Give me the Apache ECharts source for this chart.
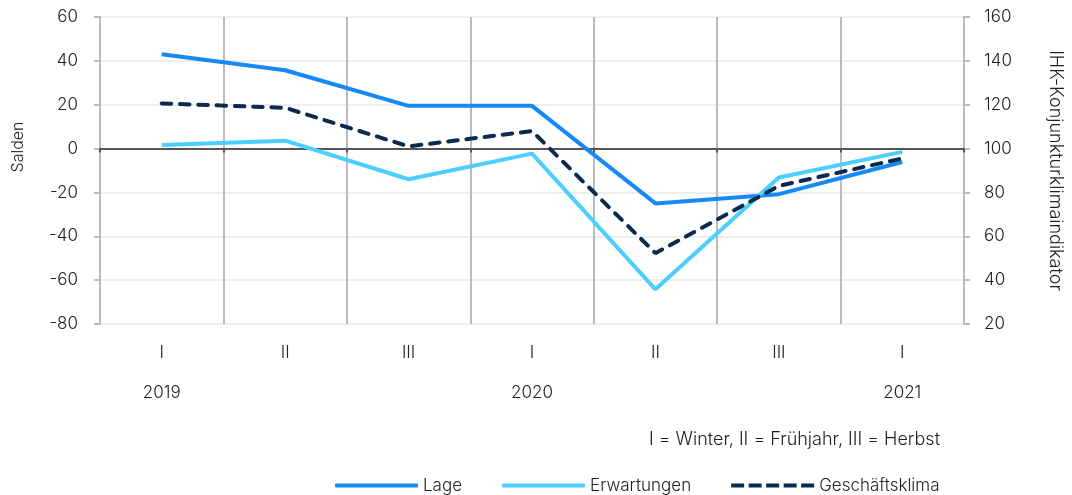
<!DOCTYPE html>
<html>
<head>
<meta charset="utf-8">
<script src="https://cdn.jsdelivr.net/npm/echarts@6/dist/echarts.min.js"></script>
<style>
  html, body { margin: 0; padding: 0; background: #fff; }
  #chart { width: 1072px; height: 495px; }
</style>
</head>
<body>
<div id="chart"></div>
<script>
// Quarter labels and the year shown under the first quarter of each year
const quarters = ['I', 'II', 'III', 'I', 'II', 'III', 'I'];
const years = ['2019', '', '', '2020', '', '', '2021'];

// Balances (left axis, Salden)
const lage = [43, 35.7, 19.5, 19.5, -25, -20.8, -6.1];
const erwartungen = [1.6, 3.6, -14, -2.3, -64.2, -13.2, -1.5];
// IHK business climate indicator (right axis)
const geschaeftsklima = [120.6, 118.6, 101, 108, 52.3, 83, 95.5];

const leftTicks = { min: -80, max: 60, interval: 20 };
const rightTicks = { min: 20, max: 160, interval: 20 };

const FONT = 'Inter, "Open Sans", sans-serif';
const TEXT = '#222';
const WEIGHT = 300;

const COLORS = { lage: '#1689f5', erw: '#4ccfff', klima: '#0b2a4d' };

// legend glyph for the dashed series: five short bars
const dashIcon = 'path://M0,0h13v4h-13zM17.5,0h13v4h-13zM35,0h13v4h-13zM52.5,0h13v4h-13zM70,0h13v4h-13z';

const chart = echarts.init(document.getElementById('chart'), null, { renderer: 'canvas' });

chart.setOption({
  animation: false,
  backgroundColor: '#fff',
  textStyle: { fontFamily: FONT, color: TEXT, fontWeight: WEIGHT },
  grid: { left: 100, right: 107, top: 17, bottom: 171, containLabel: false },
  xAxis: [
    {
      // zero line with small ticks at the quarter boundaries
      type: 'category',
      data: quarters,
      boundaryGap: true,
      position: 'bottom',
      axisLine: { show: true, onZero: true, lineStyle: { color: '#555', width: 2 } },
      axisTick: { show: true, length: 4, lineStyle: { color: '#555', width: 2 } },
      axisLabel: { show: false },
      splitLine: { show: true, lineStyle: { color: '#bbb', width: 2 } }
    },
    {
      // quarter and year labels along the bottom
      type: 'category',
      data: quarters,
      boundaryGap: true,
      position: 'bottom',
      axisLine: { show: false, onZero: false },
      axisTick: { show: false },
      splitLine: { show: false },
      axisLabel: {
        show: true,
        margin: 9,
        fontSize: 17,
        lineHeight: 40,
        color: TEXT,
        fontFamily: FONT,
        fontWeight: WEIGHT,
        formatter: (v, i) => v + '\n' + years[i]
      }
    }
  ],
  yAxis: [
    {
      type: 'value',
      position: 'left',
      min: leftTicks.min, max: leftTicks.max, interval: leftTicks.interval,
      axisLine: { show: true, lineStyle: { color: '#bbb', width: 2 } },
      axisTick: { show: true, length: 6, lineStyle: { color: '#bbb', width: 2 } },
      axisLabel: { margin: 22, fontSize: 17, color: TEXT, fontFamily: FONT, fontWeight: WEIGHT },
      splitLine: { show: true, lineStyle: { color: '#eeeeee', width: 2 } }
    },
    {
      type: 'value',
      position: 'right',
      min: rightTicks.min, max: rightTicks.max, interval: rightTicks.interval,
      name: 'IHK-Konjunkturklimaindikator',
      nameLocation: 'middle',
      nameRotate: -90,
      nameGap: 82,
      nameTextStyle: { fontSize: 18, color: TEXT, fontFamily: FONT, fontWeight: WEIGHT },
      axisLine: { show: true, lineStyle: { color: '#bbb', width: 2 } },
      axisTick: { show: true, length: 6, lineStyle: { color: '#bbb', width: 2 } },
      axisLabel: { margin: 20, fontSize: 17, color: TEXT, fontFamily: FONT, fontWeight: WEIGHT },
      splitLine: { show: false }
    }
  ],
  legend: {
    left: 330,
    top: 472,
    itemWidth: 83,
    itemHeight: 4,
    itemGap: 40,
    textStyle: { fontSize: 17, color: TEXT, fontFamily: FONT, fontWeight: WEIGHT },
    data: [
      { name: 'Lage', icon: 'roundRect' },
      { name: 'Erwartungen', icon: 'roundRect' },
      { name: 'Geschäftsklima', icon: dashIcon }
    ]
  },
  series: [
    {
      name: 'Lage',
      type: 'line',
      xAxisIndex: 0,
      yAxisIndex: 0,
      data: lage,
      symbol: 'none',
      lineStyle: { color: COLORS.lage, width: 4 },
      itemStyle: { color: COLORS.lage }
    },
    {
      name: 'Erwartungen',
      type: 'line',
      xAxisIndex: 0,
      yAxisIndex: 0,
      data: erwartungen,
      symbol: 'none',
      lineStyle: { color: COLORS.erw, width: 4 },
      itemStyle: { color: COLORS.erw }
    },
    {
      name: 'Geschäftsklima',
      type: 'line',
      xAxisIndex: 0,
      yAxisIndex: 1,
      data: geschaeftsklima,
      symbol: 'none',
      lineStyle: { color: COLORS.klima, width: 4, type: [9.5, 8.8], cap: 'round' },
      itemStyle: { color: COLORS.klima }
    }
  ],
  graphic: [
    {
      type: 'text',
      x: 18,
      y: 147,
      rotation: Math.PI / 2,
      style: {
        text: 'Salden',
        fontSize: 16,
        fontFamily: FONT,
        fontWeight: WEIGHT,
        fill: TEXT,
        align: 'center',
        verticalAlign: 'middle'
      }
    },
    {
      type: 'text',
      right: 132,
      top: 431,
      style: {
        text: 'I = Winter, II = Frühjahr, III = Herbst',
        fontSize: 18,
        fontFamily: FONT,
        fontWeight: WEIGHT,
        fill: TEXT
      }
    }
  ]
});
</script>
</body>
</html>
